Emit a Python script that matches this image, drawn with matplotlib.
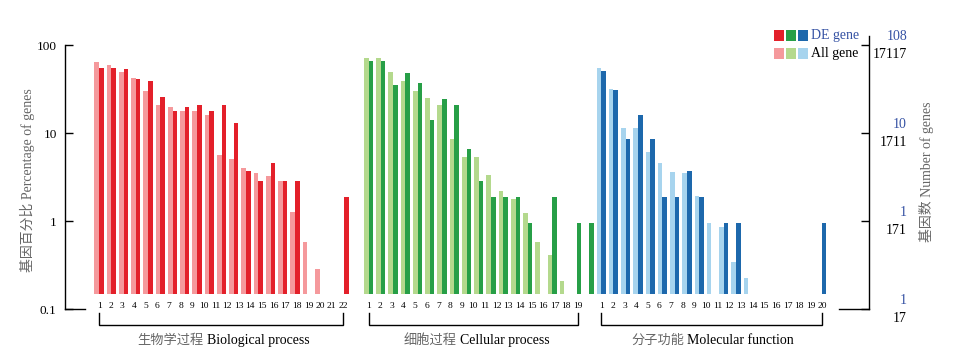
import numpy as np
import matplotlib
matplotlib.use('Agg')
import matplotlib.pyplot as plt
from matplotlib.patches import Rectangle
from matplotlib.ticker import NullLocator, FixedLocator, FixedFormatter

nan = np.nan

# ---------------- data (percent of genes) ----------------
bp_labels = [str(i) for i in range(1, 23)]
bp_all = [64.7, 59.8, 48.9, 42.6, 30.3, 21.0, 19.9, 17.6, 17.6, 16.2, 5.67,
          5.02, 4.04, 3.48, 3.27, 2.85, 1.28, 0.582, 0.282, nan, nan]
bp_de = [54.3, 55.3, 52.9, 40.7, 39.3, 25.4, 17.9, 19.9, 20.6, 17.9, 20.6,
         13.1, 3.73, 2.85, 4.60, 2.85, 2.85, nan, nan, nan, 1.89]

cc_labels = [str(i) for i in range(1, 20)]
cc_all = [71.8, 71.8, 48.9, 39.0, 30.3, 25.0, 20.6, 8.62, 5.34, 5.34, 3.33,
          2.19, 1.79, 1.23, 0.572, 0.411, 0.21, nan, nan]
cc_de = [65.8, 65.8, 35.1, 47.6, 37.0, 14.2, 24.3, 20.8, 6.58, 2.82, 1.87,
         1.87, 1.87, 0.949, nan, 1.87, nan, 0.949, 0.949]

mf_labels = [str(i) for i in range(1, 21)]
mf_all = [54.3, 31.3, 11.4, 11.4, 6.08, 4.52, 3.64, 3.51, 1.91, 0.957, 0.855,
          0.342, 0.223, nan, nan, nan, nan, nan, nan]
mf_de = [51.1, 30.5, 8.47, 15.9, 8.47, 1.87, 1.87, 3.70, 1.87, nan, 0.949,
         0.949, nan, nan, nan, nan, nan, nan, 0.949]

group_cn = ["生物学过程", "细胞过程", "分子功能"]
group_en = ["Biological process", "Cellular process", "Molecular function"]

pct_ticks = [0.1, 1, 10, 100]
pct_tick_labels = ["0.1", "1", "10", "100"]
de_count_labels = ["1", "1", "10", "108"]
all_count_labels = ["17", "171", "1711", "17117"]

# ---------------- styles ----------------
dark_cols = ["#e3202a", "#279f47", "#1d68ac"]
light_cols = ["#f5999c", "#b4d98d", "#a7d4ee"]
blue_txt = "#3451a3"
gray_txt = "#666666"
serif = ["Liberation Serif", "Noto Sans CJK SC"]

W, H = 980, 353
fig = plt.figure(figsize=(W / 100, H / 100), dpi=100)
ax_l, ax_r, ax_t, ax_b = 65, 869, 36, 309
ax = fig.add_axes([ax_l / W, 1 - ax_b / H, (ax_r - ax_l) / W, (ax_b - ax_t) / H])
ax.set_yscale('log')
ax.set_ylim(0.1, 10 ** (2 + 9 / 88))
ax.set_xlim(-2.78, 62.86)

base = 0.147
bw = 0.38
label_step = 0.95
groups = [
    (0, bp_all, bp_de, bp_labels),
    (22, cc_all, cc_de, cc_labels),
    (41, mf_all, mf_de, mf_labels),
]

xt = ax.get_xaxis_transform()
for gi, (start, all_v, de_v, labs) in enumerate(groups):
    pos = start + np.arange(len(all_v))
    a = np.array(all_v, dtype=float)
    d = np.array(de_v, dtype=float)
    ma = ~np.isnan(a)
    md = ~np.isnan(d)
    ax.bar(pos[ma] - bw / 2, a[ma] - base, bottom=base, width=bw,
           color=light_cols[gi], edgecolor='none', zorder=2)
    ax.bar(pos[md] + bw / 2, d[md] - base, bottom=base, width=bw,
           color=dark_cols[gi], edgecolor='none', zorder=3)
    lpos = start + label_step * np.arange(len(labs))
    for x, s in zip(lpos, labs):
        ax.text(x, (ax_b - 306) / (ax_b - ax_t), s, transform=xt, ha='center',
                va='center', fontsize=6.8, family=serif)
    # bracket
    yb = (ax_b - 325) / (ax_b - ax_t)
    yt = (ax_b - 313) / (ax_b - ax_t)
    x0, x1 = lpos[0], lpos[-1]
    ax.plot([x0, x0, x1, x1], [yt, yb, yb, yt], transform=xt, color='black',
            lw=1.0, clip_on=False, solid_joinstyle='miter')

# group labels (Chinese grey, English black)
grp_split = [203.5, 456.5, 684.0]
for gi in range(3):
    xs = grp_split[gi]
    fig.text(xs / W, 1 - 340.5 / H, group_cn[gi], ha='right', va='center',
             fontsize=9.5, family=serif, color=gray_txt)
    fig.text((xs + 3) / W, 1 - 340.5 / H, group_en[gi], ha='left', va='center',
             fontsize=10, family=serif, color='black')

# spines & ticks
for s in ['top', 'bottom']:
    ax.spines[s].set_visible(False)
ax.spines['left'].set_bounds(0.1, 100)
ax.spines['left'].set_linewidth(1.0)
ax.spines['right'].set_linewidth(1.0)
ax.yaxis.set_major_locator(FixedLocator(pct_ticks))
ax.yaxis.set_major_formatter(FixedFormatter(pct_tick_labels))
ax.yaxis.set_minor_locator(NullLocator())
ax.set_xticks([])
ax.tick_params(axis='y', which='major', direction='in', length=6, width=1.0,
               right=True, labelright=False, pad=6)
for lab in ax.get_yticklabels():
    lab.set_family(serif)
    lab.set_fontsize(9.5)

# short baseline stubs
ax.plot([0, (85 - ax_l) / (ax_r - ax_l)], [0, 0], transform=ax.transAxes,
        color='black', lw=1.0, clip_on=False)
ax.plot([(839 - ax_l) / (ax_r - ax_l), 1], [0, 0], transform=ax.transAxes,
        color='black', lw=1.0, clip_on=False)

# right-hand two-colour labels
for v, de_s, all_s in zip(pct_ticks, de_count_labels, all_count_labels):
    ypix = 45 + (2 - np.log10(v)) * 88
    fig.text(907 / W, 1 - (ypix - 9) / H, de_s, ha='right', va='center',
             fontsize=10, family=serif, color=blue_txt)
    fig.text(907 / W, 1 - (ypix + 9) / H, all_s, ha='right', va='center',
             fontsize=10, family=serif, color='black')

# axis titles
fig.text(27 / W, 1 - 180 / H, "基因百分比 Percentage of genes", rotation=90,
         ha='center', va='center', fontsize=10, family=serif, color=gray_txt)
fig.text(926 / W, 1 - 172 / H, "基因数 Number of genes", rotation=90,
         ha='center', va='center', fontsize=10, family=serif, color=gray_txt)

# legend
for i in range(3):
    x0 = 774 + i * 12
    fig.add_artist(Rectangle((x0 / W, 1 - 41 / H), 10 / W, 11 / H,
                             transform=fig.transFigure, facecolor=dark_cols[i],
                             edgecolor='none', linewidth=0))
    fig.add_artist(Rectangle((x0 / W, 1 - 59 / H), 10 / W, 11 / H,
                             transform=fig.transFigure, facecolor=light_cols[i],
                             edgecolor='none', linewidth=0))
fig.text(811 / W, 1 - 35.5 / H, "DE gene", ha='left', va='center', fontsize=10,
         family=serif, color=blue_txt)
fig.text(811 / W, 1 - 53.5 / H, "All gene", ha='left', va='center', fontsize=10,
         family=serif, color='black')

fig.savefig("out.png", dpi=100)
